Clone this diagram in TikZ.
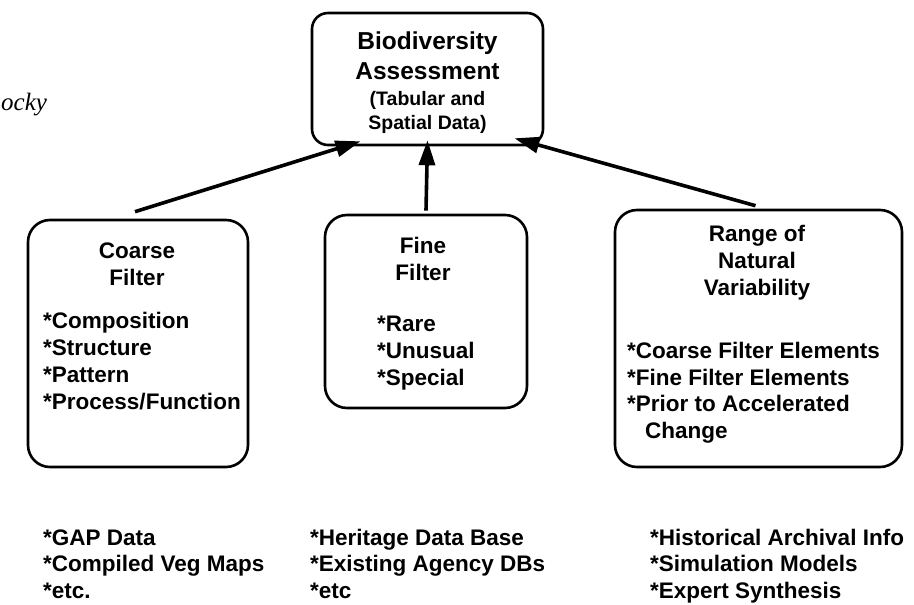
\documentclass[tikz,border=0pt]{standalone}
\usepackage{fontspec}
\setmainfont{Liberation Sans}
\newfontfamily\serifit{Liberation Serif}
\usetikzlibrary{arrows.meta}
\tikzset{
  box/.style={draw, line width=2.6pt, rounded corners=22pt, inner sep=0pt},
  arr/.style={line width=3.6pt, -{Triangle[length=25pt, width=16pt]}},
  txt/.style={inner sep=0pt, font=\fontsize{22.5}{27}\selectfont\bfseries},
  ttl/.style={inner sep=0pt, font=\fontsize{24.5}{30}\selectfont\bfseries},
  sub/.style={inner sep=0pt, font=\fontsize{19.5}{24}\selectfont\bfseries},
}
\begin{document}
\begin{tikzpicture}[x=1pt, y=-1pt]
\useasboundingbox (0,0) rectangle (914,605);
% boxes
\node[box, rounded corners=16pt, minimum width=231pt, minimum height=132pt] (top) at (427.5,79) {};
\node[box, minimum width=220pt, minimum height=247pt] (coarse) at (138,343.5) {};
\node[box, minimum width=202pt, minimum height=193pt] (fine) at (426,311.5) {};
\node[box, minimum width=287pt, minimum height=257pt] (range) at (758.5,338.5) {};
% arrows
\draw[arr] ([xshift=-3pt, yshift=7pt]coarse.north) -- ([xshift=-67pt, yshift=5pt]top.south);
\draw[arr] ([yshift=3pt]fine.north) -- ([yshift=6pt]top.south);
\draw[arr] ([xshift=-3pt, yshift=3pt]range.north) -- ([xshift=87pt, yshift=8pt]top.south);
% top box text
\node[ttl, anchor=base] (t1) at (427.5,49) {Biodiversity};
\node[ttl, anchor=base] (t2) at (427.5,79) {Assessment};
\node[sub, anchor=base] (t3) at (427.5,105) {(Tabular and};
\node[sub, anchor=base] (t4) at (427.5,129) {Spatial Data)};
% coarse filter
\node[txt, anchor=base] (c1) at (137,258) {Coarse};
\node[txt, anchor=base] (c2) at (137,285) {Filter};
\node[txt, anchor=base west] (c3) at (43,328) {*Composition};
\node[txt, anchor=base west] (c4) at (43,355) {*Structure};
\node[txt, anchor=base west] (c5) at (43,382) {*Pattern};
\node[txt, anchor=base west] (c6) at (43,409) {*Process/Function};
% fine filter
\node[txt, anchor=base] (f1) at (423,253) {Fine};
\node[txt, anchor=base] (f2) at (423,280) {Filter};
\node[txt, anchor=base west] (f3) at (377,331) {*Rare};
\node[txt, anchor=base west] (f4) at (377,358) {*Unusual};
\node[txt, anchor=base west] (f5) at (377,385) {*Special};
% range of natural variability
\node[txt, anchor=base] (r1) at (757,241) {Range of};
\node[txt, anchor=base] (r2) at (757,268) {Natural};
\node[txt, anchor=base] (r3) at (757,295) {Variability};
\node[txt, anchor=base west] (r4) at (627,358) {*Coarse Filter Elements};
\node[txt, anchor=base west] (r5) at (627,385) {*Fine Filter Elements};
\node[txt, anchor=base west] (r6) at (627,411) {*Prior to Accelerated};
\node[txt, anchor=base west] (r7) at (645,438) {Change};
% bottom lists
\node[txt, anchor=base west] (b1) at (43,545) {*GAP Data};
\node[txt, anchor=base west] (b2) at (43,571) {*Compiled Veg Maps};
\node[txt, anchor=base west] (b3) at (43,598) {*etc.};
\node[txt, anchor=base west] (b4) at (310,545) {*Heritage Data Base};
\node[txt, anchor=base west] (b5) at (310,571) {*Existing Agency DBs};
\node[txt, anchor=base west] (b6) at (310,598) {*etc};
\node[txt, anchor=base west] (b7) at (650,545) {*Historical Archival Info};
\node[txt, anchor=base west] (b8) at (650,571) {*Simulation Models};
\node[txt, anchor=base west] (b9) at (650,598) {*Expert Synthesis};
% fragment at left edge
\node[inner sep=0pt, anchor=base west, font=\fontsize{25}{30}\selectfont\serifit\itshape] (frag) at (1,110) {ocky};
\end{tikzpicture}
\end{document}
